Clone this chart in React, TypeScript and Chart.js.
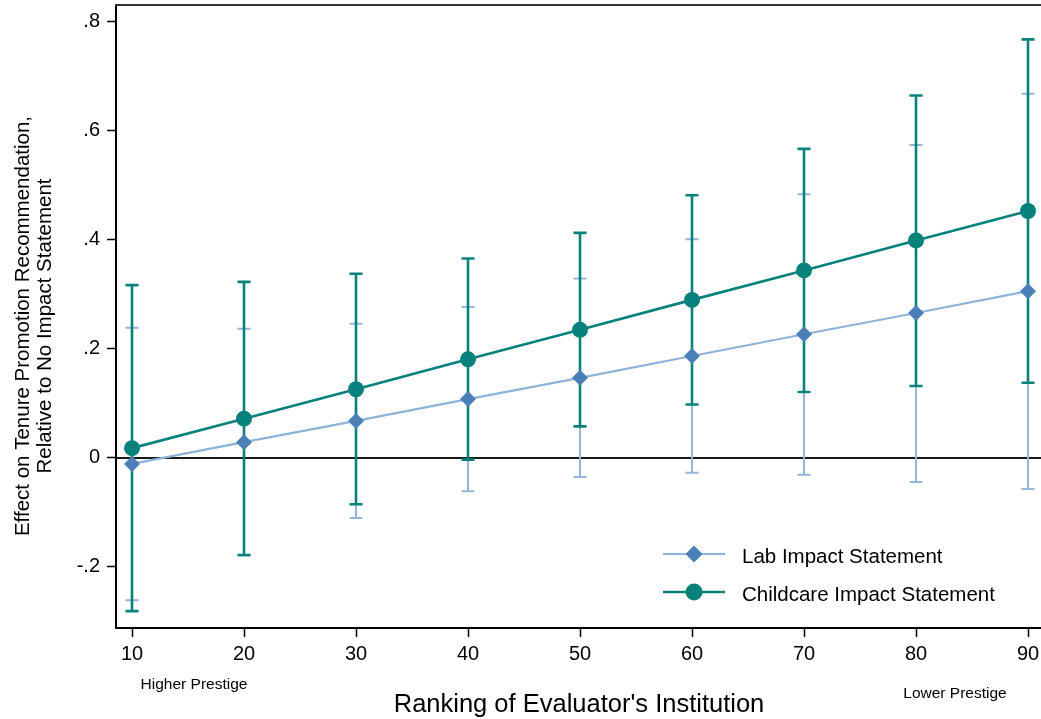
import React, { useEffect, useRef } from "react";
import { Chart, registerables } from "chart.js";

Chart.register(...registerables);

// ---------- data ----------
const rankings = [10, 20, 30, 40, 50, 60, 70, 80, 90];

const labEstimate = [-0.011, 0.029, 0.068, 0.108, 0.147, 0.187, 0.227, 0.266, 0.306];
const labLower = [-0.261, -0.179, -0.11, -0.061, -0.035, -0.027, -0.031, -0.044, -0.057];
const labUpper = [0.239, 0.237, 0.246, 0.277, 0.329, 0.401, 0.484, 0.574, 0.668];

const childcareEstimate = [0.018, 0.072, 0.126, 0.181, 0.235, 0.29, 0.344, 0.399, 0.453];
const childcareLower = [-0.281, -0.178, -0.085, -0.003, 0.058, 0.098, 0.121, 0.132, 0.138];
const childcareUpper = [0.317, 0.323, 0.338, 0.366, 0.413, 0.482, 0.567, 0.665, 0.768];

const yTickValues = [-0.2, 0, 0.2, 0.4, 0.6, 0.8];
const xTickValues = [10, 20, 30, 40, 50, 60, 70, 80, 90];

const seriesNames = ["Lab Impact Statement", "Childcare Impact Statement"];
const xAxisTitle = "Ranking of Evaluator's Institution";
const yAxisTitle = ["Effect on Tenure Promotion Recommendation,", "Relative to No Impact Statement"];
const xNoteLeft = "Higher Prestige";
const xNoteRight = "Lower Prestige";

// ---------- style ----------
const W = 1041;
const H = 719;
const FONT = "'Liberation Sans', Arial, Helvetica, sans-serif";
const TEAL = "#07817C";
const LAB_MARKER = "#4A80B7";
const LAB_LINE = "#8FB2D9";
const LAB_BAR = "#94B6DB";

function fmtTick(v: number): string {
  if (Math.abs(v) < 1e-9) return "0";
  const s = Math.abs(v).toFixed(1).replace(/^0/, "");
  return v < 0 ? "-" + s : s;
}

const errorBarPlugin = {
  id: "errorBars",
  beforeDatasetsDraw(chart: any) {
    const { ctx, chartArea, scales } = chart;
    const xs = scales.x;
    const ys = scales.y;
    // zero reference line
    const y0 = ys.getPixelForValue(0);
    ctx.save();
    ctx.strokeStyle = "#1a1a1a";
    ctx.lineWidth = 2;
    ctx.beginPath();
    ctx.moveTo(chartArea.left, y0);
    ctx.lineTo(chartArea.right, y0);
    ctx.stroke();
    chart.data.datasets.forEach((ds: any) => {
      if (!ds.errLow) return;
      ctx.strokeStyle = ds.errColor;
      ctx.lineWidth = ds.errWidth;
      ds.data.forEach((pt: any, i: number) => {
        const px = xs.getPixelForValue(pt.x);
        const pl = ys.getPixelForValue(ds.errLow[i]);
        const ph = ys.getPixelForValue(ds.errHigh[i]);
        const cap = 6.5;
        ctx.beginPath();
        ctx.moveTo(px, pl);
        ctx.lineTo(px, ph);
        ctx.moveTo(px - cap, pl);
        ctx.lineTo(px + cap, pl);
        ctx.moveTo(px - cap, ph);
        ctx.lineTo(px + cap, ph);
        ctx.stroke();
      });
    });
    ctx.restore();
  },
};

const decorPlugin = {
  id: "decor",
  afterDraw(chart: any) {
    const { ctx, chartArea } = chart;
    ctx.save();
    // top frame line
    ctx.strokeStyle = "#333";
    ctx.lineWidth = 2;
    ctx.beginPath();
    ctx.moveTo(chartArea.left - 1, chartArea.top);
    ctx.lineTo(chartArea.right, chartArea.top);
    ctx.stroke();

    ctx.fillStyle = "#000";
    // y axis title (two lines, rotated)
    ctx.font = `20.5px ${FONT}`;
    ctx.textAlign = "center";
    ctx.textBaseline = "middle";
    const yTitleX = [23, 45];
    yAxisTitle.forEach((line, i) => {
      ctx.save();
      ctx.translate(yTitleX[i], 326);
      ctx.rotate(-Math.PI / 2);
      ctx.fillText(line, 0, 0);
      ctx.restore();
    });

    // x axis title
    ctx.textBaseline = "alphabetic";
    ctx.font = `25.5px ${FONT}`;
    ctx.fillText(xAxisTitle, 579, 712);

    // prestige notes
    ctx.font = `15.5px ${FONT}`;
    ctx.fillText(xNoteLeft, 194, 689);
    ctx.fillText(xNoteRight, 955, 698);

    // legend
    const rows = [554, 592];
    const baselines = [563, 601];
    chart.data.datasets.forEach((ds: any, i: number) => {
      const y = rows[i];
      ctx.strokeStyle = ds.borderColor;
      ctx.lineWidth = ds.borderWidth;
      ctx.beginPath();
      ctx.moveTo(663, y);
      ctx.lineTo(725, y);
      ctx.stroke();
      ctx.fillStyle = ds.pointBackgroundColor;
      ctx.beginPath();
      const r = 8.5;
      if (ds.pointStyle === "rectRot") {
        ctx.moveTo(694, y - r);
        ctx.lineTo(694 + r, y);
        ctx.lineTo(694, y + r);
        ctx.lineTo(694 - r, y);
        ctx.closePath();
      } else {
        ctx.arc(694, y, r, 0, Math.PI * 2);
      }
      ctx.fill();
      ctx.fillStyle = "#000";
      ctx.font = `20.5px ${FONT}`;
      ctx.textAlign = "left";
      ctx.textBaseline = "alphabetic";
      ctx.fillText(seriesNames[i], 742, baselines[i]);
    });
    ctx.restore();
  },
};

export default function App() {
  const ref = useRef<HTMLCanvasElement>(null);

  useEffect(() => {
    const canvas = ref.current;
    if (!canvas) return;
    const chart = new Chart(canvas, {
      type: "line",
      data: {
        datasets: [
          {
            label: seriesNames[0],
            data: rankings.map((x, i) => ({ x, y: labEstimate[i] })),
            borderColor: LAB_LINE,
            borderWidth: 2.2,
            pointStyle: "rectRot",
            pointRadius: 8,
            pointBackgroundColor: LAB_MARKER,
            pointBorderColor: LAB_MARKER,
            pointBorderWidth: 0,
            tension: 0,
            order: 2,
            errLow: labLower,
            errHigh: labUpper,
            errColor: LAB_BAR,
            errWidth: 2,
          } as any,
          {
            label: seriesNames[1],
            data: rankings.map((x, i) => ({ x, y: childcareEstimate[i] })),
            borderColor: TEAL,
            borderWidth: 2.6,
            pointStyle: "circle",
            pointRadius: 8,
            pointBackgroundColor: TEAL,
            pointBorderColor: TEAL,
            pointBorderWidth: 0,
            tension: 0,
            order: 1,
            errLow: childcareLower,
            errHigh: childcareUpper,
            errColor: TEAL,
            errWidth: 2.6,
          } as any,
        ],
      },
      options: {
        responsive: false,
        animation: false,
        devicePixelRatio: 1,
        events: [],
        layout: { autoPadding: false, padding: { top: 5, left: 0, right: 0, bottom: 0 } },
        plugins: {
          legend: { display: false },
          tooltip: { enabled: false },
          title: { display: false },
        },
        scales: {
          x: {
            type: "linear",
            min: 8.57,
            max: 91.16,
            afterBuildTicks: (axis: any) => {
              axis.ticks = xTickValues.map((v) => ({ value: v }));
            },
            afterFit: (axis: any) => {
              axis.height = 91;
              axis.paddingLeft = 0;
              axis.paddingRight = 0;
              axis.paddingTop = 0;
              axis.paddingBottom = 0;
            },
            ticks: {
              autoSkip: false,
              maxRotation: 0,
              padding: 5,
              color: "#000",
              font: { family: FONT, size: 20 },
              callback: (v: any) => String(v),
            },
            grid: {
              display: true,
              drawOnChartArea: false,
              drawTicks: true,
              tickLength: 9,
              tickWidth: 1.5,
              tickColor: "#000",
            },
            border: { display: true, color: "#000", width: 2 },
          },
          y: {
            type: "linear",
            min: -0.312,
            max: 0.831,
            afterBuildTicks: (axis: any) => {
              axis.ticks = yTickValues.map((v) => ({ value: v }));
            },
            afterFit: (axis: any) => {
              axis.width = 116;
              axis.paddingLeft = 0;
              axis.paddingRight = 0;
              axis.paddingTop = 0;
              axis.paddingBottom = 0;
            },
            ticks: {
              autoSkip: false,
              padding: 7,
              color: "#000",
              font: { family: FONT, size: 20 },
              callback: (v: any) => fmtTick(Number(v)),
            },
            grid: {
              display: true,
              drawOnChartArea: false,
              drawTicks: true,
              tickLength: 9,
              tickWidth: 1.5,
              tickColor: "#000",
            },
            border: { display: true, color: "#000", width: 2 },
          },
        },
      } as any,
      plugins: [errorBarPlugin, decorPlugin],
    });
    return () => chart.destroy();
  }, []);

  return (
    <div style={{ position: "absolute", left: 0, top: 0, width: W, height: H, background: "#fff" }}>
      <canvas ref={ref} width={W} height={H} style={{ display: "block", width: W, height: H }} />
    </div>
  );
}
